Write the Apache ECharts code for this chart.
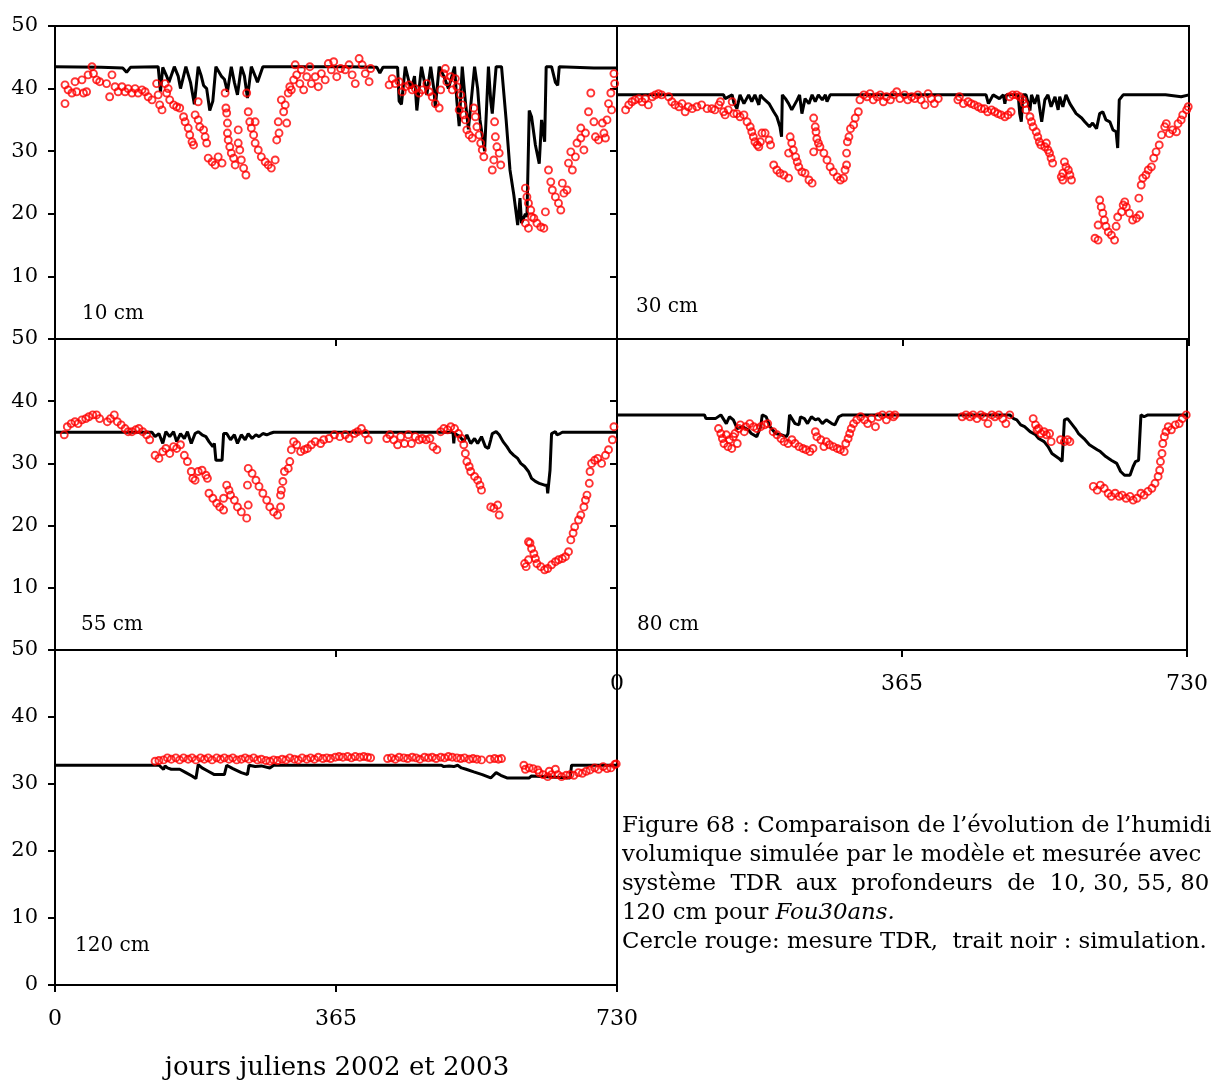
<!DOCTYPE html>
<html>
<head>
<meta charset="utf-8">
<script src="https://cdn.jsdelivr.net/npm/echarts@6/dist/echarts.min.js"></script>
<style>
html, body { margin: 0; padding: 0; background: #fff; }
#main { width: 1211px; height: 1081px; }
</style>
</head>
<body>
<div id="main"></div>
<script>
// profondeurs des sondes TDR
var depths = ['10 cm', '30 cm', '55 cm', '80 cm', '120 cm'];
var xTicks = [0, 365, 730];

// simulation (trait noir) et mesure TDR (cercles rouges), [jour, humidité %]
var sim10 = [[0,43.5],[60,43.4],[88,43.3],[93,42.6],[98,43.4],[134,43.5],[137,39.5],[140,43.4],[145,42],[148,41],[155,43.5],[160,42],[163,40],[170,43.5],[176,41],[181,37.5],[186,43.5],[190,42],[193,40.5],[197,40],[201,36.5],[205,38],[209,43.5],[216,42],[220,41.5],[224,39.5],[229,43.5],[233,41],[237,39],[242,43.5],[246,42],[250,38.5],[255,43.5],[260,42],[263,41],[270,43.5],[330,43.5],[380,43.5],[418,43.4],[422,42.5],[426,43.4],[445,43.4],[447,38],[450,37.5],[455,43.5],[460,41],[463,40],[467,42],[470,36.5],[476,43.5],[480,41],[483,39],[488,43.5],[492,40],[494,37],[499,43.5],[505,42],[511,40],[519,43.5],[522,38],[525,34],[529,43.5],[533,38],[537,33.5],[545,43.5],[549,40],[552,35],[558,30],[563,43.5],[566,38],[568,36],[573,43.5],[580,43.5],[586,35],[591,27],[596,23],[601,18.2],[604,22.5],[606,18.5],[611,20],[613,19.5],[616,36.5],[619,35.5],[624,31],[629,28],[632,35],[636,31.5],[638,43.5],[645,43.5],[650,41],[653,40.5],[655,43.5],[700,43.3],[730,43.3]];
var tdr10 = [[13,40.6],[13,37.6],[17,39.8],[22,39.3],[26,41.1],[28,39.5],[35,41.4],[37,39.3],[41,39.5],[43,42.2],[48,43.5],[50,42.4],[54,41.4],[58,41.1],[67,40.8],[71,38.7],[74,42.2],[78,40.3],[82,39.5],[87,40.3],[91,39.5],[95,40],[100,39.3],[104,40],[108,39.3],[113,39.8],[117,39.5],[121,38.7],[126,38.2],[132,40.8],[134,39],[136,37.4],[139,36.6],[143,40.8],[145,39.3],[147,40],[149,38.2],[154,37.4],[158,37.1],[162,36.9],[167,35.5],[169,34.7],[173,33.7],[175,32.6],[178,31.5],[180,31],[182,35.8],[186,35],[186,37.9],[188,33.9],[193,33.4],[195,32.3],[197,31.3],[199,28.9],[204,28.3],[208,27.8],[212,29.1],[217,28.1],[221,39.3],[222,36.9],[223,36.1],[224,34.5],[224,32.9],[225,31.8],[227,30.7],[229,29.7],[232,28.9],[234,27.8],[238,33.4],[238,31.3],[240,30.2],[242,28.6],[245,27.3],[248,26.2],[249,39.3],[251,36.3],[253,34.7],[255,33.7],[258,32.6],[260,34.7],[260,31.3],[264,30.2],[268,29.1],[273,28.3],[277,27.8],[281,27.3],[286,28.6],[288,31.8],[290,34.7],[291,32.9],[294,38.2],[297,36.3],[299,37.4],[301,34.5],[303,39.3],[305,40.3],[307,39.8],[310,41.4],[312,43.8],[314,42.2],[318,40.8],[320,43],[323,39.8],[327,41.9],[331,43.5],[333,40.8],[338,41.9],[342,40.3],[346,42.4],[351,41.4],[355,44],[359,43],[362,44.3],[366,41.9],[371,43.2],[377,43],[382,43.8],[386,42.2],[390,40.8],[395,44.8],[399,43.8],[403,42.4],[408,41.1],[410,43.2],[434,40.6],[438,41.6],[442,40.8],[447,41.1],[451,39.5],[455,40.3],[460,40.6],[464,39.8],[468,40],[473,39.3],[477,39.8],[483,40.8],[486,39.5],[490,38.7],[494,37.6],[499,36.9],[501,39.8],[505,42.4],[507,43.2],[509,41.1],[514,41.9],[516,39.8],[520,41.6],[522,40.3],[525,36.6],[527,39],[529,37.4],[531,35.8],[533,35],[535,33.4],[538,32.6],[542,32.1],[544,36.9],[546,35.5],[548,33.9],[551,32.6],[553,31.3],[555,30.2],[557,29.1],[568,27],[570,28.6],[571,34.7],[572,32.3],[574,30.7],[577,29.7],[579,27.8],[611,24.1],[613,22.7],[615,21.7],[618,20.6],[619,19.5],[611,18.5],[615,17.7],[622,19.3],[626,18.5],[631,17.9],[635,17.7],[637,20.3],[641,27],[644,25.1],[646,23.8],[650,22.7],[654,21.7],[657,20.6],[659,24.9],[661,23.3],[665,23.8],[667,28.1],[670,29.9],[672,27],[676,29.1],[678,31.3],[683,32.1],[683,33.7],[687,30.2],[689,32.9],[693,36.3],[696,39.3],[700,34.7],[702,32.3],[706,31.8],[711,34.5],[713,32.9],[715,32.1],[717,35],[719,37.6],[722,39.3],[723,36.6],[726,42.4],[727,40.8]];

var sim30 = [[0,39],[136,39],[138,38.4],[140,38.2],[144,38.8],[147,39],[149,37.8],[153,36.8],[157,39],[162,37.6],[168,39],[172,37.9],[176,39],[181,37.4],[183,39],[187,38.4],[194,37.6],[200,36.3],[204,35.5],[208,33.9],[210,32.3],[211,39],[215,38.4],[219,37.6],[223,36.6],[225,36.3],[230,38.2],[233,39],[236,36],[238,35.8],[240,38.4],[245,37.6],[249,39],[253,37.9],[257,39],[262,38.2],[266,39],[268,37.9],[272,39],[365,39],[471,39],[474,37.6],[476,37.6],[480,39],[488,38.4],[493,39],[495,37.6],[497,39],[512,39],[514,36],[516,34.7],[518,39],[522,39],[525,37.6],[527,36.5],[529,39],[533,37.6],[537,39],[540,36.3],[542,34.7],[546,38.2],[550,39],[554,37.1],[559,38.7],[563,36.6],[565,38.7],[569,37.1],[573,39],[578,37.6],[582,36.8],[586,36],[593,35.3],[597,34.7],[603,33.9],[607,34.5],[612,33.6],[616,36],[620,36.3],[624,35],[629,34.7],[633,33.4],[637,33.1],[639,30.5],[641,38.2],[646,39],[700,39],[720,38.7],[722,39],[730,39]];
var tdr30 = [[11,36.6],[15,37.4],[19,37.9],[23,38.2],[28,38.4],[32,37.9],[36,38.4],[40,37.4],[45,38.7],[49,39],[53,39.2],[57,39],[66,38.7],[70,37.9],[74,37.4],[79,37.1],[83,37.6],[87,36.3],[91,37.1],[96,36.8],[102,37.1],[108,37.4],[115,36.8],[121,36.8],[125,36.6],[130,37.4],[132,37.9],[136,36.3],[138,35.8],[142,36.6],[147,37.9],[149,36],[153,36],[157,35.5],[162,35.8],[166,34.7],[170,33.9],[172,33.1],[174,32.3],[176,31.5],[179,31],[181,30.7],[183,31.5],[185,32.9],[189,32.9],[194,31.8],[196,31],[200,27.8],[204,27],[208,26.5],[213,26.2],[219,25.7],[219,29.7],[221,32.3],[223,31.3],[225,30.2],[228,29.1],[230,28.3],[232,27.5],[236,26.7],[240,26.5],[245,25.4],[249,24.9],[251,35.3],[253,33.9],[254,33.1],[251,29.9],[255,32],[257,31.3],[259,30.7],[264,29.7],[268,28.6],[272,27.5],[276,26.7],[281,25.9],[285,25.4],[289,25.7],[291,27],[293,27.8],[293,29.7],[294,31.5],[296,32.3],[298,33.6],[302,34.2],[304,35.3],[308,36.3],[310,38.2],[315,39],[319,38.7],[323,39.2],[327,38.2],[332,38.7],[336,39],[340,37.9],[344,38.7],[349,38.2],[353,39],[357,39.5],[361,38.4],[367,39],[371,38.2],[376,38.7],[380,38.4],[384,39],[388,38.2],[393,37.4],[397,39.2],[401,38.4],[405,37.6],[410,38.4],[435,38.2],[437,38.7],[442,37.6],[448,37.9],[452,37.6],[456,37.4],[461,37.1],[465,36.8],[469,36.8],[473,36.3],[478,36.6],[482,36.3],[486,36],[490,35.8],[495,35.5],[499,35.8],[503,36.3],[501,38.7],[505,39],[510,39],[514,38.7],[518,38.2],[520,37.6],[522,36.6],[527,35.5],[529,34.7],[531,33.9],[535,33.1],[537,32.3],[539,31.5],[541,31],[546,30.7],[548,31.3],[550,30.2],[552,29.7],[554,28.9],[556,28.1],[567,25.9],[569,26.5],[571,28.3],[573,27.5],[576,27],[578,26.2],[580,25.4],[569,25.4],[610,16.1],[614,15.8],[614,18.2],[616,22.2],[618,21.1],[620,20.1],[622,19],[624,18],[627,17.1],[631,16.6],[635,15.8],[637,18],[639,19.5],[644,20.3],[646,21.4],[648,21.9],[650,21.1],[654,20.1],[658,19],[663,19.3],[667,19.8],[666,22.5],[669,24.6],[671,25.7],[675,26.2],[678,27],[682,27.5],[685,28.9],[688,29.9],[692,31],[695,32.6],[699,33.9],[701,34.4],[705,32.8],[709,33.4],[714,33.1],[716,34.4],[720,35],[722,35.8],[727,36.6],[729,37.1]];

var sim55 = [[0,35],[126,35],[130,34.3],[135,34.8],[140,33.2],[144,35.1],[149,34.3],[154,35.1],[158,33.5],[163,34.8],[168,34],[172,35.1],[177,33.2],[182,34.8],[186,35.1],[191,34.6],[196,34.3],[200,33.5],[205,32.7],[207,33.2],[209,30.5],[217,30.5],[219,34.8],[223,34.8],[228,33.8],[233,34.6],[237,33.2],[242,34.6],[247,33.8],[251,34.8],[256,34],[261,34.6],[265,34.3],[270,34.8],[275,34.6],[279,34.8],[284,35],[517,35],[518,33.2],[519,34.8],[526,34.3],[531,33.5],[535,34.6],[540,33.2],[545,34],[549,33.2],[554,34.3],[559,32.7],[563,32.4],[566,33.8],[568,34.8],[573,35.1],[577,34.6],[582,33.5],[587,32.7],[591,31.9],[596,31.3],[601,30.8],[605,30],[610,29.5],[615,28.7],[619,27.6],[624,27.1],[629,26.8],[636,26.5],[639,26.5],[640,25.2],[643,28.9],[645,34.8],[650,35.1],[652,34.6],[656,34.8],[659,35],[730,35]];
var tdr55 = [[12,34.6],[16,35.9],[21,36.4],[26,36.7],[30,36.4],[35,37],[40,37.2],[44,37.5],[49,37.8],[54,37.8],[58,37.2],[68,36.7],[72,37.2],[77,37.8],[81,36.7],[86,36.2],[91,35.6],[95,35.1],[100,35.1],[105,35.4],[109,35.6],[114,35.1],[119,34.6],[123,33.8],[130,31.3],[135,30.8],[140,31.9],[144,32.4],[149,31.6],[154,32.7],[158,32.4],[163,33],[168,31.3],[172,30.3],[177,28.7],[179,27.6],[182,27.3],[186,28.7],[191,28.9],[196,28.1],[198,27.6],[200,25.2],[205,24.4],[210,23.6],[214,23],[219,22.5],[219,24.4],[223,26.5],[226,25.7],[228,24.9],[233,24.1],[237,23],[242,22.2],[249,21.2],[251,23.3],[250,26.5],[251,29.2],[256,28.4],[261,27.3],[265,26.3],[270,25.2],[275,24.1],[279,23],[284,22.2],[289,21.7],[293,23],[293,24.9],[294,25.7],[296,27.1],[298,28.7],[303,29.2],[305,30.3],[307,32.2],[310,33.5],[314,33],[319,31.9],[324,32.2],[328,32.4],[333,33],[338,33.5],[345,33.2],[349,33.8],[356,34],[363,34.6],[370,34.3],[377,34.6],[382,34],[389,34.8],[393,35.1],[398,35.6],[403,34.8],[407,33.8],[431,34],[435,34.6],[440,33.8],[445,33],[449,34.3],[454,33.2],[459,34.6],[463,33.2],[468,34.3],[473,33.8],[477,34],[482,33.8],[487,34],[491,32.7],[496,32.2],[501,35.1],[505,35.6],[510,35.4],[514,35.9],[519,35.6],[524,34.8],[528,34],[531,33],[533,31.6],[535,30.3],[538,29.5],[540,28.7],[545,27.9],[549,27.3],[552,26.5],[554,25.7],[566,23],[570,22.8],[575,23.3],[577,21.7],[610,13.9],[612,13.4],[615,14.5],[615,17.4],[617,17.2],[619,16.3],[622,15.5],[624,14.7],[626,13.9],[631,13.4],[636,12.9],[640,13.1],[645,13.7],[650,14.2],[654,14.5],[659,14.7],[663,15],[667,15.8],[670,17.7],[673,18.8],[675,19.8],[680,20.9],[683,21.7],[687,23],[689,24.1],[691,24.9],[694,26.8],[695,28.7],[697,30],[701,30.5],[705,30.8],[710,30],[715,31.3],[719,32.2],[724,33.8],[726,35.9]];

var sim80 = [[0,37.8],[112,37.8],[114,37.2],[126,37.2],[133,37.8],[137,37],[140,36.4],[144,37.5],[149,37],[154,35.6],[161,35.9],[168,35.4],[172,34.8],[179,34.3],[184,35.9],[186,37.8],[191,37.5],[196,35.9],[203,34.8],[210,34.6],[217,34.3],[219,34.8],[221,37.8],[224,37.2],[228,36.4],[233,36.2],[235,37.5],[240,37.2],[244,36.4],[249,37.5],[254,37],[258,37.2],[263,36.4],[268,37],[275,36.4],[279,36.2],[284,37.5],[289,37.8],[503,37.8],[508,37.2],[512,37],[517,36.2],[522,35.9],[529,35.1],[536,34.6],[540,34],[547,33.5],[552,32.7],[557,31.6],[566,30.8],[570,30.3],[573,37],[577,37.2],[582,36.4],[587,35.6],[591,34.8],[598,34],[605,33],[615,32.2],[619,31.9],[626,31.1],[633,30.5],[640,30],[645,28.7],[650,28.1],[657,28.1],[661,29.5],[664,30.3],[668,30.5],[671,37.8],[675,37.5],[680,37.8],[730,37.8]];
var tdr80 = [[130,35.6],[133,34.8],[135,34],[137,33.2],[140,34.6],[142,32.7],[144,33.8],[147,32.4],[149,34.3],[151,34.8],[154,33.2],[156,35.6],[158,36.2],[163,35.1],[165,35.9],[170,36.4],[175,35.9],[179,35.6],[184,35.9],[189,36.2],[193,36.4],[200,35.1],[205,34.6],[210,34],[214,33.5],[219,33.2],[224,33.8],[228,33.2],[233,32.7],[238,32.4],[242,32.2],[247,31.9],[251,32.4],[254,35.1],[256,34.3],[261,33.8],[265,32.7],[268,33.5],[272,33],[277,32.7],[282,32.4],[286,32.2],[291,31.9],[293,33.2],[296,34],[298,34.8],[300,35.6],[303,36.4],[307,37],[312,37.5],[317,37],[321,36.4],[326,37.2],[331,35.9],[335,37.5],[340,37.8],[345,37],[349,37.8],[354,37.5],[356,37.8],[442,37.5],[447,37.8],[452,37.5],[456,37.8],[461,37.2],[466,37.8],[470,37.5],[475,36.4],[480,37.8],[484,37.5],[489,37.8],[494,37.2],[498,36.4],[503,37.8],[533,37.2],[536,36.2],[538,35.4],[540,35.6],[543,34.8],[547,35.1],[550,34.6],[554,34.8],[556,33.5],[568,33.8],[573,33.5],[577,33.8],[580,33.5],[610,26.3],[615,25.7],[619,26.5],[624,26],[629,25.2],[633,24.7],[638,25.2],[643,24.7],[647,24.9],[652,24.4],[657,24.7],[661,24.1],[666,24.4],[671,25.2],[675,24.9],[680,25.5],[685,26],[689,26.8],[693,27.9],[695,28.9],[696,30.3],[698,31.6],[699,33.2],[701,34.3],[703,35.1],[706,35.9],[710,35.4],[715,36.2],[720,36.4],[724,37.2],[729,37.8]];

var sim120 = [[0,32.8],[135,32.8],[141,32.2],[143,32.7],[146,32.4],[151,32.2],[162,32.2],[170,31.7],[178,31.2],[183,30.8],[186,32.9],[191,32.4],[199,31.9],[207,31.4],[220,31.4],[223,32.8],[231,32.3],[242,31.7],[250,31.4],[252,32.8],[260,32.6],[268,32.7],[279,32.4],[284,32.8],[502,32.8],[505,32.6],[512,32.7],[518,32.6],[523,32.8],[528,32.4],[534,32.2],[544,31.8],[555,31.4],[566,30.9],[573,31.7],[579,31.3],[587,30.9],[616,30.9],[619,31.2],[669,30.9],[671,32.8],[730,32.8]];
var tdr120 = [[130,33.4],[135,33.5],[141,33.6],[146,33.9],[151,33.7],[157,33.9],[162,33.6],[167,33.9],[173,33.7],[178,33.9],[183,33.6],[189,33.9],[194,33.7],[199,33.9],[204,33.6],[210,33.9],[215,33.7],[220,33.9],[226,33.7],[231,33.9],[236,33.6],[242,33.7],[247,33.9],[252,33.7],[258,33.9],[263,33.6],[268,33.7],[274,33.5],[279,33.4],[284,33.6],[289,33.5],[295,33.7],[300,33.6],[305,33.9],[311,33.7],[316,33.6],[321,33.9],[327,33.7],[332,33.9],[337,33.7],[342,34],[348,33.8],[353,33.9],[358,33.8],[364,34],[369,34.1],[374,34],[380,34.1],[385,33.9],[390,34.1],[396,34],[401,34.1],[406,34],[410,33.9],[432,33.8],[437,33.9],[442,33.7],[447,34],[453,33.9],[458,33.8],[464,34],[469,33.9],[474,33.7],[480,34],[485,33.9],[490,34],[495,33.8],[501,34],[506,33.9],[511,34.1],[516,34],[522,33.9],[527,33.8],[532,33.9],[538,33.7],[543,33.8],[548,33.7],[554,33.6],[565,33.7],[571,33.8],[576,33.7],[580,33.8],[609,32.8],[611,32.2],[616,32.4],[621,32.3],[627,32.1],[629,31.7],[634,31.4],[640,31.1],[642,31.9],[645,31.4],[650,32.2],[653,31.4],[658,31.1],[664,31.3],[669,31.4],[674,31.3],[680,31.7],[685,31.6],[690,31.9],[695,32.1],[701,32.4],[706,32.2],[712,32.6],[717,32.3],[722,32.4],[727,32.9],[729,33]];

var simAll = [sim10, sim30, sim55, sim80, sim120];
var tdrAll = [tdr10, tdr30, tdr55, tdr80, tdr120];

var FONT = 'DejaVu Serif';
var chart = echarts.init(document.getElementById('main'));

// panneaux : 10 | 30 / 55 | 80 / 120
var boxes = [
  {left: 55, top: 26, width: 562, height: 313},
  {left: 617, top: 26, width: 572, height: 313},
  {left: 55, top: 339, width: 562, height: 311},
  {left: 617, top: 339, width: 572, height: 311},
  {left: 55, top: 650, width: 562, height: 335}
];
var tagPos = [[82, 314], [636, 307], [81, 625], [637, 625], [75, 946]];
var showX = [false, false, false, true, true];
var showY = [true, false, true, false, true];

var grids = [], xAxes = [], yAxes = [], series = [], graphics = [];
boxes.forEach(function (b, i) {
  grids.push({left: b.left, top: b.top, width: b.width, height: b.height,
    show: true, borderColor: '#000', borderWidth: 2, backgroundColor: 'transparent'});
  xAxes.push({
    type: 'value', gridIndex: i, min: 0, max: 730, interval: 365,
    axisLine: {show: true, lineStyle: {color: '#000', width: 2}},
    axisTick: {show: true, inside: false, length: 7, lineStyle: {color: '#000', width: 2}},
    axisLabel: {show: showX[i], margin: 23, color: '#000', fontFamily: FONT, fontSize: 22},
    splitLine: {show: false}
  });
  yAxes.push({
    type: 'value', gridIndex: i, min: 0, max: 50, interval: 10,
    axisLine: {show: true, lineStyle: {color: '#000', width: 2}},
    axisTick: {show: true, inside: false, length: 7, lineStyle: {color: '#000', width: 2}},
    axisLabel: {show: showY[i], margin: 17, color: '#000', fontFamily: FONT, fontSize: 21,
      formatter: function (v) { return (v === 0 && i < 4) ? '' : v; }},
    splitLine: {show: false}
  });
  series.push({
    type: 'line', xAxisIndex: i, yAxisIndex: i, data: simAll[i],
    showSymbol: false, lineStyle: {color: '#000', width: 3}, z: 2, animation: false
  });
  series.push({
    type: 'scatter', xAxisIndex: i, yAxisIndex: i, data: tdrAll[i],
    symbol: 'circle', symbolSize: 7,
    itemStyle: {color: 'rgba(255,255,255,0)', borderColor: '#ff0000', borderWidth: 1.9},
    z: 3, animation: false
  });
  graphics.push({type: 'text', x: tagPos[i][0], y: tagPos[i][1],
    style: {text: depths[i], fill: '#000', font: '20px "DejaVu Serif"', verticalAlign: 'middle'}});
});

graphics.push({type: 'text', x: 337, y: 1068,
  style: {text: 'jours juliens 2002 et 2003', fill: '#000', font: '26px "DejaVu Serif"',
    align: 'center', verticalAlign: 'middle'}});

// légende de la figure, coupée au bord droit comme sur l'original
graphics.push({type: 'text', x: 622, y: 812,
  style: {
    text: 'Figure 68 : Comparaison de l\u2019évolution de l\u2019humidité\n' +
          'volumique simulée par le modèle et mesurée avec\n' +
          'système  TDR  aux  profondeurs  de  10, 30, 55, 80\n' +
          '120 cm pour {i|Fou30ans.}\n' +
          'Cercle rouge: mesure TDR,  trait noir : simulation.',
    fill: '#000', fontFamily: FONT, fontSize: 22.8, lineHeight: 29,
    rich: {i: {fontStyle: 'italic', fontFamily: FONT, fontSize: 22.8, lineHeight: 29}}
  }});

chart.setOption({
  backgroundColor: '#fff',
  animation: false,
  grid: grids,
  xAxis: xAxes,
  yAxis: yAxes,
  series: series,
  graphic: graphics
});
</script>
</body>
</html>
